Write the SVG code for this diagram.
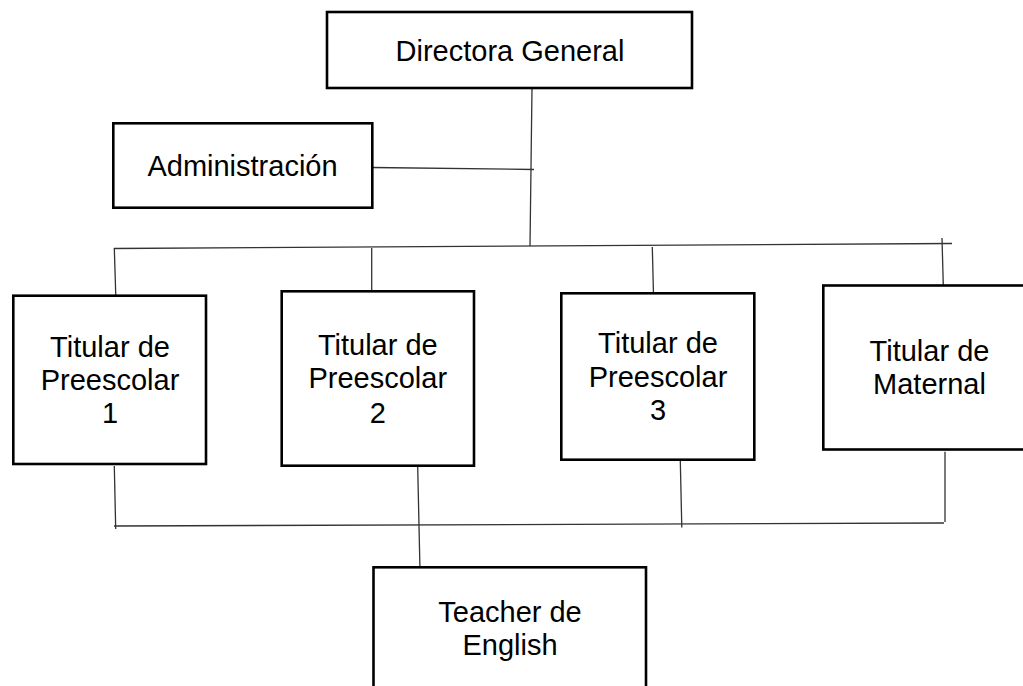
<svg xmlns="http://www.w3.org/2000/svg" width="1023" height="686" viewBox="0 0 1023 686">
<style>
.box{fill:#fff;stroke:#000;stroke-width:2.6}
.t{font-family:"Liberation Sans",Arial,sans-serif;font-size:29px;fill:#000;text-anchor:middle}
.c line{stroke:#333;stroke-width:1.3;fill:none}
</style>
<rect width="1023" height="686" fill="#fff"/>
<g class="c" id="connectors">
<line x1="532" y1="88" x2="530" y2="246"/>
<line x1="372" y1="167.5" x2="534" y2="169.5"/>
<line x1="114" y1="248.5" x2="952" y2="243.5"/>
<line x1="114.3" y1="248" x2="116" y2="303"/>
<line x1="371.7" y1="248" x2="371.7" y2="293"/>
<line x1="652.3" y1="247" x2="653.7" y2="303"/>
<line x1="942" y1="238" x2="943.5" y2="293"/>
<line x1="114.3" y1="466" x2="115.7" y2="529"/>
<line x1="114" y1="526" x2="944" y2="523"/>
<line x1="417.7" y1="466.7" x2="420" y2="571"/>
<line x1="680.3" y1="460.7" x2="681.8" y2="527.5"/>
<line x1="945" y1="451.7" x2="945" y2="522"/>
</g>
<g id="directora">
<rect class="box" x="327" y="12" width="365" height="76"/>
<text class="t" x="510" y="61">Directora General</text>
</g>
<g id="administracion">
<rect class="box" x="113.3" y="123.3" width="259" height="84.4"/>
<text class="t" x="242.5" y="176">Administración</text>
</g>
<g id="preescolar1">
<rect class="box" x="13.3" y="295.7" width="192.7" height="168.3"/>
<text class="t" x="110" y="356.7">Titular de</text>
<text class="t" x="110" y="389.5">Preescolar</text>
<text class="t" x="110" y="423">1</text>
</g>
<g id="preescolar2">
<rect class="box" x="281.7" y="291.3" width="192.3" height="174.4"/>
<text class="t" x="377.8" y="355">Titular de</text>
<text class="t" x="377.8" y="388.3">Preescolar</text>
<text class="t" x="377.8" y="422.5">2</text>
</g>
<g id="preescolar3">
<rect class="box" x="561.3" y="293.3" width="193" height="166.4"/>
<text class="t" x="658" y="352.7">Titular de</text>
<text class="t" x="658" y="386.5">Preescolar</text>
<text class="t" x="658" y="420">3</text>
</g>
<g id="maternal">
<rect class="box" x="823.3" y="285.5" width="213" height="164"/>
<text class="t" x="929.5" y="360.5">Titular de</text>
<text class="t" x="929.5" y="394">Maternal</text>
</g>
<g id="teacher">
<rect class="box" x="373.5" y="567.3" width="272.5" height="130"/>
<text class="t" x="510" y="621.7">Teacher de</text>
<text class="t" x="510" y="655">English</text>
</g>
</svg>
